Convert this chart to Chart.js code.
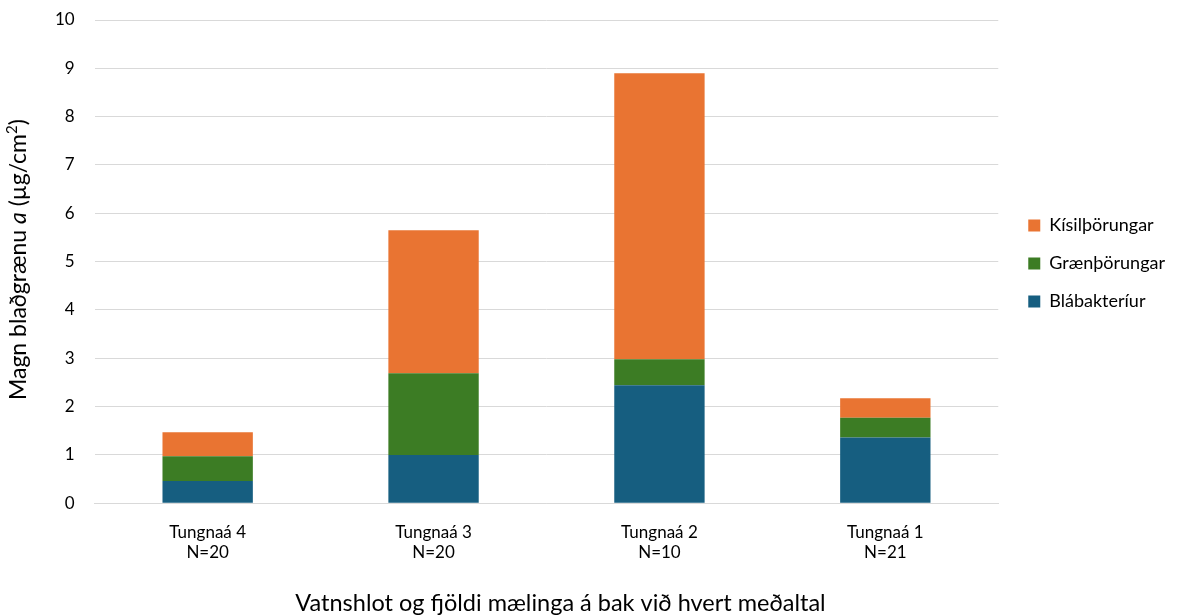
<!DOCTYPE html>
<html><head><meta charset="utf-8">
<script src="https://cdn.jsdelivr.net/npm/chart.js@4/dist/chart.umd.min.js"></script>
<style>html,body{margin:0;padding:0;background:#fff}#wrap{width:1183px;height:616px}</style>
</head><body><div id="wrap"><canvas id="c" width="1183" height="616"></canvas></div>
<script>
const categories = [["Tungnaá 4","N=20"],["Tungnaá 3","N=20"],["Tungnaá 2","N=10"],["Tungnaá 1","N=21"]];
const blabakteriur = [0.46, 1.00, 2.44, 1.36];
const graenthorungar = [0.51, 1.69, 0.54, 0.41];
const kisilthorungar = [0.50, 2.96, 5.92, 0.40];
const yTicks = [0,1,2,3,4,5,6,7,8,9,10];
const xTitle = 'Vatnshlot og fjöldi mælinga á bak við hvert meðaltal';
const yTitleParts = [
  {t:'Magn blaðgrænu ', style:''},
  {t:'a', style:'italic '},
  {t:' (µg/cm', style:''},
  {t:'2', style:'', sup:true},
  {t:')', style:''}
];

const FONT = "Lato, 'Open Sans', sans-serif";
Chart.defaults.font.family = FONT;
Chart.defaults.color = '#000';

const titlesPlugin = {
  id:'titles',
  beforeDraw(chart){
    if (chart.legend && !chart.legend._shifted) { chart.legend.left += 10; chart.legend.right += 10; chart.legend.top += 2; chart.legend.bottom += 2; chart.legend._shifted = true; }
  },
  afterDraw(chart){
    const ctx = chart.ctx, size = 23;
    const area = chart.chartArea;
    const fontOf = (p)=> p.sup ? `${Math.round(size*0.65)}px ${FONT}` : `${p.style}${size}px ${FONT}`;
    let total = 0;
    ctx.save();
    for (const p of yTitleParts){ ctx.font = fontOf(p); total += ctx.measureText(p.t).width; }
    ctx.translate(19, (area.top+area.bottom)/2 - 2);
    ctx.rotate(-Math.PI/2);
    ctx.fillStyle = '#000';
    ctx.textBaseline = 'middle';
    ctx.textAlign = 'left';
    let x = -total/2;
    for (const p of yTitleParts){
      ctx.font = fontOf(p);
      ctx.fillText(p.t, x, p.sup ? -size*0.3 : 0);
      x += ctx.measureText(p.t).width;
    }
    ctx.restore();
    // x-axis title
    ctx.save();
    ctx.font = `23.5px ${FONT}`;
    ctx.fillStyle = '#000';
    ctx.textAlign = 'center';
    ctx.textBaseline = 'middle';
    ctx.fillText(xTitle, area.left + (area.right - area.left)/2 + 14, chart.height - 13);
    ctx.restore();
  }
};

new Chart(document.getElementById('c'), {
  type: 'bar',
  data: {
    labels: categories,
    datasets: [
      {label:'Blábakteríur', data: blabakteriur, backgroundColor:'#165e80'},
      {label:'Grænþörungar', data: graenthorungar, backgroundColor:'#3c7c24'},
      {label:'Kísilþörungar', data: kisilthorungar, backgroundColor:'#e97432'}
    ]
  },
  plugins:[titlesPlugin],
  options: {
    responsive:false, animation:false,
    layout:{padding:{left:35,right:18,top:20,bottom:34}},
    datasets:{bar:{barPercentage:0.4, categoryPercentage:1.0, borderWidth:0}},
    plugins:{
      legend:{position:'right', reverse:true, fullSize:false,
        labels:{boxWidth:12, boxHeight:12, padding:20, font:{size:18}, color:'#000'}},
      tooltip:{enabled:false}
    },
    scales:{
      x:{stacked:true,
        grid:{display:false, drawTicks:false},
        border:{color:'#d9d9d9', width:1},
        ticks:{font:{size:17}, padding:19, color:'#000'},
        title:{display:false}
      },
      y:{stacked:true, min:0, max:10,
        afterBuildTicks:(ax)=>{ax.ticks = yTicks.map(v=>({value:v}));},
        afterFit:(ax)=>{ax.paddingTop = 10; ax.paddingBottom = 10;},
        grid:{color:'#d9d9d9', drawTicks:false},
        border:{display:false},
        ticks:{font:{size:17}, padding:20, color:'#000'},
        title:{display:false}
      }
    }
  }
});
</script></body></html>
